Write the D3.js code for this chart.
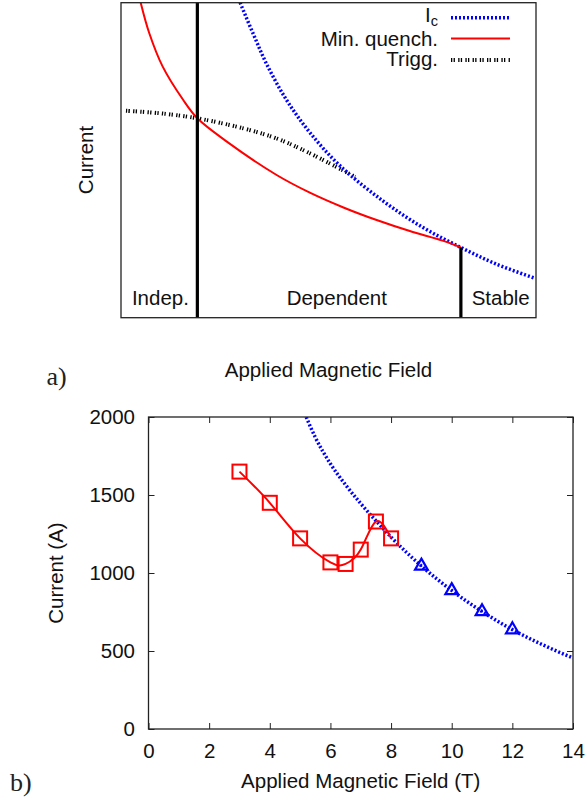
<!DOCTYPE html>
<html>
<head>
<meta charset="utf-8">
<script src="https://cdn.jsdelivr.net/npm/d3@7"></script>
<style>
  body { margin: 0; background: #fff; }
  svg { display: block; font-family: "Liberation Sans", Arial, Helvetica, sans-serif; }
  .serif { font-family: "Liberation Serif", "Times New Roman", serif; }
</style>
</head>
<body>
<svg id="chart" width="587" height="804"></svg>
<script>
// ---- panel a) : schematic curves (arbitrary units 0..100) ----
const minQuenchX = [4.75, 6.82, 10.05, 15.0, 18.4, 25.5, 37.5, 45.5, 53.6, 61.6, 69.6, 77.7, 81.9];
const minQuenchY = [100, 90.3, 79.7, 69.1, 63.3, 55.9, 45.3, 39.7, 35.0, 31.0, 27.5, 24.4, 22.3];
const icAX = [28.7, 31.9, 35.1, 39.9, 45.5, 52.8, 63.2, 72.8, 81.9, 90.5, 99.8];
const icAY = [100, 90.0, 80.5, 69.1, 58.8, 48.2, 37.0, 28.6, 22.3, 17.0, 12.5];
const triggX = [1.2, 9.4, 18.4, 29.5, 37.5, 45.5, 56.4];
const triggY = [65.7, 64.9, 63.3, 60.1, 56.9, 52.2, 44.7];
const regionBounds = [18.4, 81.9];   // Indep./Dependent and Dependent/Stable borders
const regionNames = ["Indep.", "Dependent", "Stable"];
const regionCenters = [9.5, 52.0, 91.5];

// ---- panel b) : measured data ----
const quenchField = [3, 4, 5, 6, 6.5, 7, 7.5, 8];
const quenchCurrent = [1650, 1450, 1222, 1068, 1058, 1150, 1330, 1222];
const stableField = [9, 10, 11, 12];
const stableCurrent = [1045, 888, 753, 637];
const icField = [5.2, 5.5, 6, 6.5, 7, 7.5, 8, 9, 10, 11, 12, 13, 14];
const icCurrent = [2000, 1870, 1700, 1565, 1445, 1335, 1230, 1045, 888, 753, 637, 540, 455];
const xTicks = [0, 2, 4, 6, 8, 10, 12, 14];
const yTicks = [0, 500, 1000, 1500, 2000];

const BLUE = "#0000ff", RED = "#ff0000", INK = "#222";
const FS = 20.5;

const svg = d3.select("#chart");
const zip = (a, b) => a.map((v, i) => [v, b[i]]);

// ================= panel a =================
const ax = d3.scaleLinear().domain([0, 100]).range([121, 536]);
const ay = d3.scaleLinear().domain([0, 100]).range([317.7, 2.7]);

svg.append("clipPath").attr("id", "clipA")
  .append("rect").attr("x", 121).attr("y", 2.7).attr("width", 415).attr("height", 315);

const gA = svg.append("g");
const lineA = d3.line().x(d => ax(d[0])).y(d => ay(d[1])).curve(d3.curveCatmullRom.alpha(0.5));

const curvesA = gA.append("g").attr("clip-path", "url(#clipA)");
curvesA.append("path").attr("d", lineA(zip(triggX, triggY)))
  .attr("fill", "none").attr("stroke", "#000").attr("stroke-width", 4)
  .attr("stroke-dasharray", "1.3,1.3,1.3,3.3");
curvesA.append("path").attr("d", lineA(zip(icAX, icAY)))
  .attr("fill", "none").attr("stroke", BLUE).attr("stroke-width", 3.5)
  .attr("stroke-dasharray", "2,2");
curvesA.append("path").attr("d", lineA(zip(minQuenchX, minQuenchY)))
  .attr("fill", "none").attr("stroke", RED).attr("stroke-width", 2);

// region borders
gA.append("line").attr("x1", ax(regionBounds[0])).attr("x2", ax(regionBounds[0]))
  .attr("y1", ay(100)).attr("y2", ay(0)).attr("stroke", "#000").attr("stroke-width", 3.2);
gA.append("line").attr("x1", ax(regionBounds[1])).attr("x2", ax(regionBounds[1]))
  .attr("y1", ay(minQuenchY[minQuenchY.length - 1])).attr("y2", ay(0))
  .attr("stroke", "#000").attr("stroke-width", 3.2);

gA.append("rect").attr("x", 121).attr("y", 2.7).attr("width", 415).attr("height", 315)
  .attr("fill", "none").attr("stroke", INK).attr("stroke-width", 1.3);

gA.selectAll(".region").data(regionNames).join("text")
  .attr("x", (d, i) => ax(regionCenters[i])).attr("y", 305)
  .attr("text-anchor", "middle").attr("font-size", FS).attr("fill", "#111")
  .text(d => d);

// legend
const legA = gA.append("g");
const lt = legA.append("text").attr("x", 438).attr("y", 21.5).attr("text-anchor", "end")
  .attr("font-size", FS).attr("fill", "#111");
lt.append("tspan").text("I");
lt.append("tspan").attr("dy", 4.5).attr("font-size", 14.5).text("c");
legA.append("text").attr("x", 438).attr("y", 45.5).attr("text-anchor", "end")
  .attr("font-size", FS).attr("fill", "#111").text("Min. quench.");
legA.append("text").attr("x", 438).attr("y", 66).attr("text-anchor", "end")
  .attr("font-size", FS).attr("fill", "#111").text("Trigg.");
legA.append("line").attr("x1", 451).attr("x2", 510).attr("y1", 17.7).attr("y2", 17.7)
  .attr("stroke", BLUE).attr("stroke-width", 3.5).attr("stroke-dasharray", "2,2");
legA.append("line").attr("x1", 451).attr("x2", 510).attr("y1", 38.5).attr("y2", 38.5)
  .attr("stroke", RED).attr("stroke-width", 2);
legA.append("line").attr("x1", 451).attr("x2", 510).attr("y1", 60).attr("y2", 60)
  .attr("stroke", "#000").attr("stroke-width", 4).attr("stroke-dasharray", "1.3,1.3,1.3,3.3");

// axis titles
svg.append("text").attr("transform", "translate(93,160) rotate(-90)")
  .attr("text-anchor", "middle").attr("font-size", FS).attr("fill", "#111").text("Current");
svg.append("text").attr("x", 328.5).attr("y", 377).attr("text-anchor", "middle")
  .attr("font-size", FS).attr("fill", "#111").text("Applied Magnetic Field");
svg.append("text").attr("class", "serif").attr("x", 46.5).attr("y", 385)
  .attr("font-size", 26).attr("fill", "#222").text("a)");

// ================= panel b =================
const x = d3.scaleLinear().domain([0, 14]).range([148.5, 573]);
const y = d3.scaleLinear().domain([0, 2000]).range([729, 417]);

svg.append("clipPath").attr("id", "clipB")
  .append("rect").attr("x", 148.5).attr("y", 417).attr("width", 424.5).attr("height", 312);

const gB = svg.append("g");
const styleAxis = g => {
  g.select(".domain").remove();
  g.selectAll("line").attr("stroke", INK);
  g.selectAll("text").attr("font-size", FS).attr("fill", "#111")
    .attr("font-family", "'Liberation Sans', Arial, Helvetica, sans-serif");
};
gB.append("g").attr("transform", "translate(0,729)")
  .call(d3.axisBottom(x).tickValues(xTicks).tickFormat(d3.format("d"))
    .tickSizeInner(-6).tickSizeOuter(0).tickPadding(14))
  .call(styleAxis);
gB.append("g").attr("transform", "translate(0,417)")
  .call(d3.axisTop(x).tickValues(xTicks).tickFormat("").tickSizeInner(-6).tickSizeOuter(0))
  .call(styleAxis);
gB.append("g").attr("transform", "translate(148.5,0)")
  .call(d3.axisLeft(y).tickValues(yTicks).tickFormat(d3.format("d"))
    .tickSizeInner(-6).tickSizeOuter(0).tickPadding(13.5))
  .call(styleAxis);
gB.append("g").attr("transform", "translate(573,0)")
  .call(d3.axisRight(y).tickValues(yTicks).tickFormat("").tickSizeInner(-6).tickSizeOuter(0))
  .call(styleAxis);

const curvesB = gB.append("g").attr("clip-path", "url(#clipB)");
const lineIc = d3.line().x(d => x(d[0])).y(d => y(d[1])).curve(d3.curveMonotoneX);
curvesB.append("path").attr("d", lineIc(zip(icField, icCurrent)))
  .attr("fill", "none").attr("stroke", BLUE).attr("stroke-width", 3.5)
  .attr("stroke-dasharray", "2,2");
const lineQ = d3.line().x(d => x(d[0])).y(d => y(d[1])).curve(d3.curveNatural);
curvesB.append("path").attr("d", lineQ(zip(quenchField, quenchCurrent)))
  .attr("fill", "none").attr("stroke", RED).attr("stroke-width", 2);

gB.selectAll(".sq").data(zip(quenchField, quenchCurrent)).join("rect")
  .attr("x", d => x(d[0]) - 7).attr("y", d => y(d[1]) - 7)
  .attr("width", 14).attr("height", 14)
  .attr("fill", "none").attr("stroke", RED).attr("stroke-width", 2);

const tri = d3.symbol(d3.symbolTriangle, 70);
const triG = gB.selectAll(".tri").data(zip(stableField, stableCurrent)).join("g")
  .attr("transform", d => `translate(${x(d[0])},${y(d[1])})`);
triG.append("path").attr("d", tri).attr("fill", "none")
  .attr("stroke", BLUE).attr("stroke-width", 2.2);
triG.append("circle").attr("r", 1).attr("fill", BLUE);

gB.append("rect").attr("x", 148.5).attr("y", 417).attr("width", 424.5).attr("height", 312)
  .attr("fill", "none").attr("stroke", INK).attr("stroke-width", 1.3);

svg.append("text").attr("transform", "translate(63,573) rotate(-90)")
  .attr("text-anchor", "middle").attr("font-size", FS).attr("fill", "#111").text("Current (A)");
svg.append("text").attr("x", 360.75).attr("y", 788).attr("text-anchor", "middle")
  .attr("font-size", FS).attr("fill", "#111").text("Applied Magnetic Field (T)");
svg.append("text").attr("class", "serif").attr("x", 10).attr("y", 791)
  .attr("font-size", 26).attr("fill", "#222").text("b)");
</script>
</body>
</html>
